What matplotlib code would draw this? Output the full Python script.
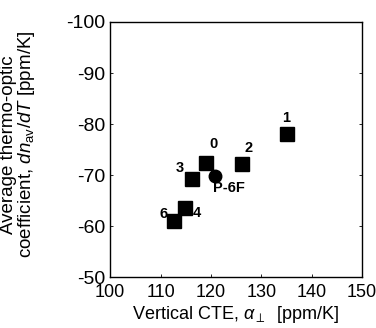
import matplotlib.pyplot as plt

plt.rcParams['font.family'] = ['Liberation Sans', 'DejaVu Sans']
plt.rcParams['mathtext.fontset'] = 'custom'
plt.rcParams['mathtext.rm'] = 'Liberation Sans'
plt.rcParams['mathtext.it'] = 'Liberation Sans:italic'
plt.rcParams['axes.unicode_minus'] = False

# polymer samples (squares)
labels = ["0", "1", "2", "3", "4", "6"]
cte = [119.1, 135.1, 126.2, 116.2, 114.9, 112.6]
dndt = [-72.4, -78.1, -72.2, -69.3, -63.6, -61.1]
# reference polymer (circle)
ref_label = "P-6F"
ref_cte = [120.9]
ref_dndt = [-69.9]

# label offsets in points
offsets = {"0": (5, 13.5), "1": (-0.7, 11), "2": (4.3, 11.5), "3": (-8.6, 8),
           "4": (8.6, -3.6), "6": (-7.2, 5)}

fig = plt.figure(figsize=(3.76, 3.28), dpi=100)
ax = fig.add_axes([0.293, 0.155, 0.67, 0.778])

ax.plot(cte, dndt, "s", color="black", markersize=9.5)
ax.plot(ref_cte, ref_dndt, "o", color="black", markersize=9)

for lab, x, y in zip(labels, cte, dndt):
    dx, dy = offsets[lab]
    ax.annotate(lab, (x, y), xytext=(dx, dy), textcoords="offset points",
                ha="center", va="center", fontsize=10.5, fontweight="bold")
ax.annotate(ref_label, (ref_cte[0], ref_dndt[0]), xytext=(9.4, -8.6),
            textcoords="offset points", ha="center", va="center",
            fontsize=10.5, fontweight="bold")

ax.set_xlim(100, 150)
ax.set_ylim(-50, -100)
ax.set_xticks([100, 110, 120, 130, 140, 150])
ax.set_yticks([-50, -60, -70, -80, -90, -100])
ax.tick_params(direction="in", length=2, width=0.6, right=True, top=False)
ax.tick_params(axis="x", labelsize=13, pad=5)
ax.tick_params(axis="y", labelsize=14, pad=3.5)
for s in ax.spines.values():
    s.set_linewidth(1.0)

ax.set_xlabel(r"Vertical CTE, $\alpha_{\perp}$  [ppm/K]", fontsize=13, labelpad=2)
ax.set_ylabel("Average thermo-optic\ncoefficient, $dn_{\\rm av}/dT$ [ppm/K]",
              fontsize=13.5, linespacing=0.95)
ax.yaxis.set_label_coords(-0.29, 0.52)

fig.savefig("out.png", dpi=100)
